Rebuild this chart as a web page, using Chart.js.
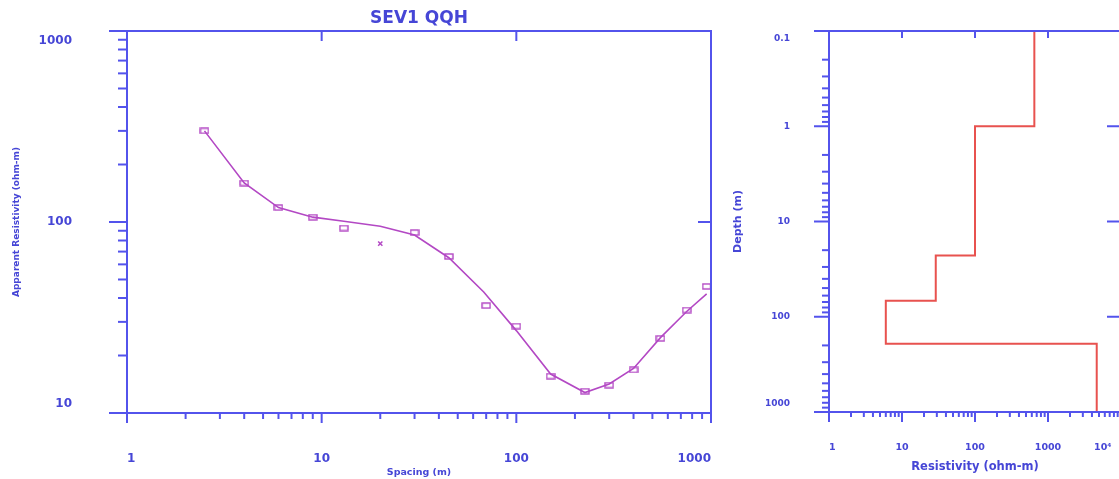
<!DOCTYPE html>
<html>
<head>
<meta charset="utf-8">
<title>SEV1 QQH</title>
<script src="https://cdn.jsdelivr.net/npm/chart.js@4.4.1/dist/chart.umd.min.js"></script>
<style>
  html, body { margin: 0; padding: 0; background: #fff; }
  body { width: 1119px; height: 479px; overflow: hidden; position: relative; }
  #sounding { position: absolute; left: 0; top: 0; }
  #model { position: absolute; left: 700px; top: 0; }
</style>
</head>
<body>
<canvas id="sounding" width="730" height="479"></canvas>
<canvas id="model" width="440" height="479"></canvas>
<script>
// --- field data: spacing (m) vs apparent resistivity (ohm-m)
const spacing = [2.5, 4, 6, 9, 13, 30, 45, 70, 100, 150, 225, 300, 400, 550, 750, 950];
const rhoApparent = [300, 160, 119, 106, 93, 88, 66, 36.5, 28.5, 15.6, 13, 14, 16.8, 24.6, 34.6, 46];

// point left out of the inversion
const maskedSpacing = [20];
const maskedRho = [77];

// calculated sounding curve
const fitSpacing = [2.5, 4, 6, 9, 13, 20, 30, 45, 68, 100, 150, 225, 300, 400, 550, 750, 950];
const fitRho = [300, 160, 119, 106, 101, 95, 85.5, 65, 43, 27, 16, 12.8, 14.2, 17.1, 24.8, 34, 42];

// layered model: resistivity of each layer and depth of its top
const layerRes = [650, 100, 29, 6, 4650];
const layerTop = [0.1, 1, 22.8, 68, 192];
const maxDepth = 1000;

// axis ticks
const spacingTicks = [1, 10, 100, 1000];
const spacingLabels = ["1", "10", "100", "1000"];
const rhoTicks = [10, 100, 1000];
const rhoLabels = ["10", "100", "1000"];
const resTicks = [1, 10, 100, 1000, 10000];
const resLabels = ["1", "10", "100", "1000", "10\u2074\u2003"];
const depthTicks = [0.1, 1, 10, 100, 1000];
const depthLabels = ["0.1", "1", "10", "100", "1000"];

const BLUE = "#5353ec";
const TEXT = "#4646d6";
const MAGENTA = "#b348c4";
const RED = "#e8524f";
const FONT = "'DejaVu Sans', sans-serif";

function minorTicks(lo, hi) {
  const out = [];
  for (let d = lo; d < hi * 0.999; d *= 10) {
    for (let k = 2; k <= 9; k++) out.push(+(k * d).toPrecision(3));
  }
  return out;
}

// small open box used for the measured points
function boxMarker() {
  const c = document.createElement("canvas");
  c.width = 10; c.height = 7;
  const g = c.getContext("2d");
  g.strokeStyle = MAGENTA;
  g.lineWidth = 1.4;
  g.strokeRect(1, 1, 8, 5);
  return c;
}

// frame + tick marks in the old plotting-package style
const framePlugin = {
  id: "frame",
  afterDraw(chart, args, o) {
    const { ctx, chartArea: a, scales } = chart;
    const xs = scales.x, ys = scales.y;
    const line = (x1, y1, x2, y2) => { ctx.beginPath(); ctx.moveTo(x1, y1); ctx.lineTo(x2, y2); ctx.stroke(); };
    ctx.save();
    ctx.strokeStyle = BLUE;
    ctx.lineWidth = 2;
    ctx.strokeRect(a.left, a.top, a.right - a.left, a.bottom - a.top);
    o.yMinor.forEach(v => { const y = ys.getPixelForValue(v); line(a.left - o.yMinorLen, y, a.left, y); });
    o.yMajor.forEach(v => { const y = ys.getPixelForValue(v); line(a.left - o.yMajorLen, y, a.left, y); });
    o.xMinor.forEach(v => { const x = xs.getPixelForValue(v); line(x, a.bottom, x, a.bottom + o.xMinorLen); });
    o.xMajor.forEach(v => { const x = xs.getPixelForValue(v); line(x, a.bottom, x, a.bottom + o.xMajorLen); });
    o.xMajor.slice(1, -1).forEach(v => { const x = xs.getPixelForValue(v); line(x, a.top, x, a.top + o.topLen); });
    o.yMajor.slice(1, -1).forEach(v => { const y = ys.getPixelForValue(v); line(a.right - o.rightLen, y, a.right, y); });
    ctx.restore();
  }
};

// end labels pushed inside the frame
function yLabel(labels, ticks, topFirst) {
  return (v, i, all) => {
    const s = labels[ticks.indexOf(v)] ?? "";
    if (i === 0) return topFirst ? ["", s] : [s, ""];
    if (i === all.length - 1) return topFirst ? [s, ""] : ["", s];
    return s;
  };
}

// fixed axis box, no extra label padding around the plot
function fixSize(prop, size) {
  return ax => {
    ax[prop] = size;
    ax.paddingLeft = ax.paddingRight = ax.paddingTop = ax.paddingBottom = 0;
  };
}

// === LEFT: sounding curve ===
new Chart(document.getElementById("sounding"), {
  type: "scatter",
  data: {
    datasets: [
      {
        label: "Calculated",
        data: fitSpacing.map((x, i) => ({ x, y: fitRho[i] })),
        showLine: true,
        pointRadius: 0,
        borderColor: MAGENTA,
        borderWidth: 1.6,
      },
      {
        label: "Observed",
        data: spacing.map((x, i) => ({ x, y: rhoApparent[i] })),
        pointStyle: boxMarker(),
        pointRadius: 5,
        borderColor: MAGENTA,
      },
      {
        label: "Masked",
        data: maskedSpacing.map((x, i) => ({ x, y: maskedRho[i] })),
        pointStyle: "crossRot",
        pointRadius: 3,
        borderWidth: 1.5,
        borderColor: MAGENTA,
      },
    ],
  },
  options: {
    responsive: false,
    animation: false,
    layout: { padding: { right: 19 } },
    plugins: {
      legend: { display: false },
      tooltip: { enabled: false },
      title: {
        display: true,
        text: "SEV1 QQH",
        color: TEXT,
        fullSize: false,
        font: { family: FONT, size: 17, weight: "bold" },
        padding: { top: 8, bottom: 2.6 },
      },
      frame: {
        yMajor: rhoTicks, yMinor: minorTicks(10, 1000),
        xMajor: spacingTicks, xMinor: minorTicks(1, 1000),
        yMinorLen: 9, yMajorLen: 18, xMinorLen: 6, xMajorLen: 10, topLen: 10, rightLen: 13,
      },
    },
    scales: {
      x: {
        type: "logarithmic",
        min: 1,
        max: 1000,
        afterBuildTicks: ax => { ax.ticks = spacingTicks.map(v => ({ value: v })); },
        afterFit: fixSize("height", 66),
        grid: { display: false, drawTicks: false },
        border: { display: false },
        ticks: {
          align: "inner",
          autoSkip: false,
          maxRotation: 0,
          padding: 39,
          color: TEXT,
          font: { family: FONT, size: 12, weight: "bold" },
          callback: v => spacingLabels[spacingTicks.indexOf(v)] ?? "",
        },
        title: {
          display: true,
          text: "Spacing (m)",
          color: TEXT,
          font: { family: FONT, size: 9.5, weight: "bold" },
          padding: { top: 0, bottom: 0.5 },
        },
      },
      y: {
        type: "logarithmic",
        min: 10,
        max: 1000,
        afterBuildTicks: ax => { ax.ticks = rhoTicks.map(v => ({ value: v })); },
        afterFit: fixSize("width", 127),
        grid: { display: false, drawTicks: false },
        border: { display: false },
        ticks: {
          autoSkip: false,
          padding: 55,
          color: TEXT,
          font: { family: FONT, size: 12, weight: "bold", lineHeight: 1.6 },
          callback: yLabel(rhoLabels, rhoTicks, false),
        },
        title: {
          display: true,
          text: "Apparent Resistivity (ohm-m)",
          color: TEXT,
          font: { family: FONT, size: 9, weight: "bold" },
          padding: { top: 11.6, bottom: 0 },
        },
      },
    },
  },
  plugins: [framePlugin],
});

// === RIGHT: layered model ===
const stepPts = layerRes.map((r, i) => ({ x: r, y: layerTop[i] }));
stepPts.push({ x: layerRes[layerRes.length - 1], y: maxDepth });

new Chart(document.getElementById("model"), {
  type: "scatter",
  data: {
    datasets: [
      {
        label: "Model",
        data: stepPts,
        showLine: true,
        stepped: "after",
        pointRadius: 0,
        borderColor: RED,
        borderWidth: 2,
      },
    ],
  },
  options: {
    responsive: false,
    animation: false,
    layout: { padding: { top: 31, right: 19 } },
    plugins: {
      legend: { display: false },
      tooltip: { enabled: false },
      frame: {
        yMajor: depthTicks, yMinor: minorTicks(0.1, 1000),
        xMajor: resTicks, xMinor: minorTicks(1, 10000),
        yMinorLen: 7, yMajorLen: 15, xMinorLen: 5, xMajorLen: 10, topLen: 7, rightLen: 14,
      },
    },
    scales: {
      x: {
        type: "logarithmic",
        min: 1,
        max: 10000,
        afterBuildTicks: ax => { ax.ticks = resTicks.map(v => ({ value: v })); },
        afterFit: fixSize("height", 67),
        grid: { display: false, drawTicks: false },
        border: { display: false },
        ticks: {
          align: "inner",
          autoSkip: false,
          maxRotation: 0,
          padding: 30,
          color: TEXT,
          font: { family: FONT, size: 9.5, weight: "bold" },
          callback: v => resLabels[resTicks.indexOf(v)] ?? "",
        },
        title: {
          display: true,
          text: "Resistivity (ohm-m)",
          color: TEXT,
          font: { family: FONT, size: 11.5, weight: "bold" },
          padding: { top: 0, bottom: 5 },
        },
      },
      y: {
        type: "logarithmic",
        reverse: true,
        min: 0.1,
        max: 1000,
        afterBuildTicks: ax => { ax.ticks = depthTicks.map(v => ({ value: v })); },
        afterFit: fixSize("width", 129),
        grid: { display: false, drawTicks: false },
        border: { display: false },
        ticks: {
          autoSkip: false,
          padding: 39,
          color: TEXT,
          font: { family: FONT, size: 9, weight: "bold", lineHeight: 1.8 },
          callback: yLabel(depthLabels, depthTicks, true),
        },
        title: {
          display: true,
          text: "Depth (m)",
          color: TEXT,
          font: { family: FONT, size: 11, weight: "bold" },
          padding: { top: 31.4, bottom: 0 },
        },
      },
    },
  },
  plugins: [framePlugin],
});
</script>
</body>
</html>
